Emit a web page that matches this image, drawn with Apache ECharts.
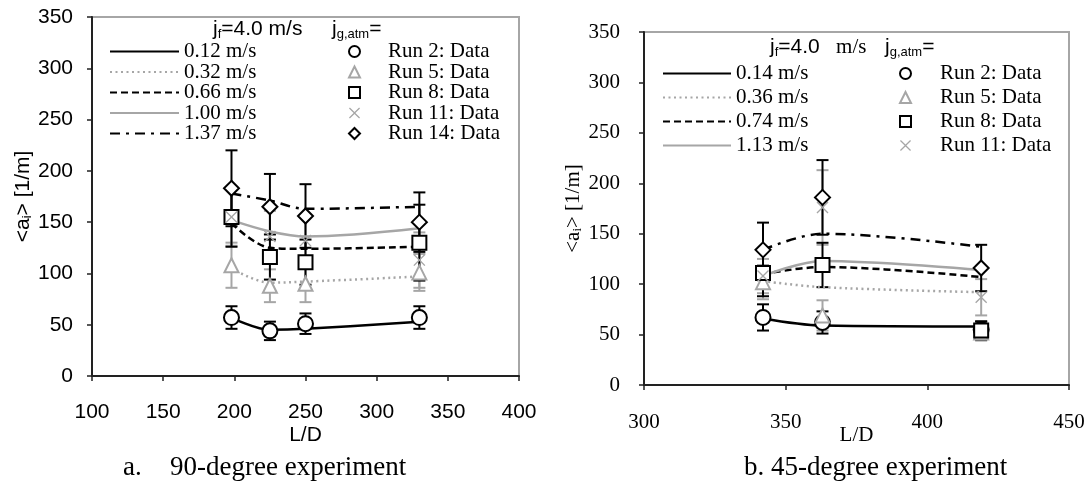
<!DOCTYPE html>
<html>
<head>
<meta charset="utf-8">
<script src="https://cdn.jsdelivr.net/npm/echarts@6/dist/echarts.min.js"></script>
<style>html,body{margin:0;padding:0;background:#fff;}#c{width:1092px;height:483px;}</style>
</head>
<body>
<div id="c"></div>
<script>
// ---------- Data: 90-degree experiment (left) ----------
const ldLeft = [198, 225, 250, 330];
const run2L = [57, 44, 51, 57];    const err2L = [11, 9, 10, 11];
const run5L = [108, 88, 90, 101];  const err5L = [22, 16, 18, 18];
const run8L = [155, 116, 111, 130]; const err8L = [29, 22, 22, 37];
const run11L = [155, 136, 132, 113]; const err11L = [28, 25, 23, 27];
const run14L = [183, 165, 156, 150]; const err14L = [37, 32, 31, 29];
const fitL012 = [57, 45, 46, 53];
const fitL032 = [105, 91, 92, 97];
const fitL066 = [149, 125, 124, 126];
const fitL100 = [152, 141, 136, 144];
const fitL137 = [178, 171, 163, 165];
const linesLeftNames = ['0.12 m/s', '0.32 m/s', '0.66 m/s', '1.00 m/s', '1.37 m/s'];

// ---------- Data: 45-degree experiment (right) ----------
const ldRight = [342, 363, 419];
const run2R = [67, 62, 55];   const err2R = [13, 11, 8];
const run5R = [102, 69, 52];  const err5R = [17, 15, 8];
const run8R = [111, 119, 54]; const err8R = [23, 22, 9];
const run11R = [108, 176, 87]; const err11R = [17, 37, 18];
const run14R = [134, 186, 116]; const err14R = [27, 37, 23];
const fitR014 = [66, 59, 58];
const fitR036 = [103, 97, 92];
const fitR074 = [110, 117, 107];
const fitR113 = [108, 123, 114];
const fitR148 = [134, 150, 137];
const linesRightNames = ['0.14 m/s', '0.36 m/s', '0.74 m/s', '1.13 m/s', '1.48 m/s'];

const runNames = ['Run 2: Data', 'Run 5: Data', 'Run 8: Data', 'Run 11: Data', 'Run 14: Data'];
const xTicksLeft = [100, 400, 50];
const xTicksRight = [300, 450, 50];
const yTicks = [0, 350, 50];

// ---------- Styles ----------
const BLACK = '#000';
const GRAY = '#a6a6a6';
const ARIAL = 'Liberation Sans';
const TIMES = 'Liberation Serif';
const X_PATH = 'path://M0,1.6L1.6,0L10,8.4L18.4,0L20,1.6L11.6,10L20,18.4L18.4,20L10,11.6L1.6,20L0,18.4L8.4,10Z';

function pairs(xs, ys) { return xs.map((x, i) => [x, ys[i]]); }
function triples(xs, ys, es) { return xs.map((x, i) => [x, ys[i], es[i]]); }

function errSeries(idx, xs, ys, es, color) {
  return {
    type: 'custom', name: 'err', xAxisIndex: idx, yAxisIndex: idx, z: 2,
    data: triples(xs, ys, es), encode: { x: 0, y: 1 },
    renderItem: function (params, api) {
      const x = api.value(0), y = api.value(1), e = api.value(2);
      const t = api.coord([x, y + e]), b = api.coord([x, y - e]);
      const hw = 6;
      const st = { stroke: color, lineWidth: 2 };
      return { type: 'group', children: [
        { type: 'line', shape: { x1: t[0], y1: t[1], x2: b[0], y2: b[1] }, style: st },
        { type: 'line', shape: { x1: t[0] - hw, y1: t[1], x2: t[0] + hw, y2: t[1] }, style: st },
        { type: 'line', shape: { x1: b[0] - hw, y1: b[1], x2: b[0] + hw, y2: b[1] }, style: st }
      ]};
    }
  };
}
function lineSeries(idx, name, xs, ys, color, type, width) {
  return { type: 'line', name: name, xAxisIndex: idx, yAxisIndex: idx, z: 3,
    data: pairs(xs, ys), smooth: 0.35, symbol: 'none',
    lineStyle: { color: color, type: type, width: width }, itemStyle: { color: color } };
}
function markerSeries(idx, name, xs, ys, symbol, size, color, filled) {
  return { type: 'scatter', name: name, xAxisIndex: idx, yAxisIndex: idx, z: 4,
    data: pairs(xs, ys), symbol: symbol, symbolSize: size,
    itemStyle: filled ? { color: color, opacity: 1 } : { color: color, borderColor: color, borderWidth: 2, opacity: 1 } };
}

function xAxis(gi, ticks, font, nameGap, margin) {
  return { type: 'value', gridIndex: gi, min: ticks[0], max: ticks[1], interval: ticks[2],
    name: 'L/D', nameLocation: 'middle', nameGap: nameGap, nameMoveOverlap: false,
    nameTextStyle: { fontFamily: font, fontSize: 21, color: BLACK },
    axisLine: { show: true, onZero: false, lineStyle: { color: '#222', width: 2 } },
    axisTick: { show: true, inside: false, length: 5, lineStyle: { color: '#222', width: 1.5 } },
    axisLabel: { fontFamily: font, fontSize: 21, color: BLACK, margin: margin },
    splitLine: { show: false } };
}
function yAxis(gi, font, nameGap, margin) {
  return { type: 'value', gridIndex: gi, min: yTicks[0], max: yTicks[1], interval: yTicks[2],
    name: '<a{sub|i}> [1/m]', nameLocation: 'middle', nameGap: nameGap, nameRotate: 90, nameMoveOverlap: false,
    nameTextStyle: { fontFamily: font, fontSize: 21, color: BLACK,
      rich: { sub: { fontFamily: font, fontSize: 13, color: BLACK, verticalAlign: 'bottom', padding: [8, 0, 0, 0] } } },
    axisLine: { show: true, lineStyle: { color: '#222', width: 2 } },
    axisTick: { show: true, inside: false, length: 5, lineStyle: { color: '#222', width: 1.5 } },
    axisLabel: { fontFamily: font, fontSize: 21, color: BLACK, margin: margin },
    splitLine: { show: false } };
}

const series = [];
// left chart (index 0)
series.push(errSeries(0, ldLeft, run5L, err5L, GRAY));
series.push(errSeries(0, ldLeft, run11L, err11L, GRAY));
series.push(errSeries(0, ldLeft, run2L, err2L, BLACK));
series.push(errSeries(0, ldLeft, run8L, err8L, BLACK));
series.push(errSeries(0, ldLeft, run14L, err14L, BLACK));
series.push(lineSeries(0, linesLeftNames[0], ldLeft, fitL012, BLACK, 'solid', 2.5));
series.push(lineSeries(0, linesLeftNames[1], ldLeft, fitL032, GRAY, [2, 3.5], 2.5));
series.push(lineSeries(0, linesLeftNames[2], ldLeft, fitL066, BLACK, [7, 4], 2.5));
series.push(lineSeries(0, linesLeftNames[3], ldLeft, fitL100, GRAY, 'solid', 2.5));
series.push(lineSeries(0, linesLeftNames[4], ldLeft, fitL137, BLACK, [10, 6, 3, 6], 2.5));
series.push(markerSeries(0, runNames[0], ldLeft, run2L, 'emptyCircle', 15, BLACK));
series.push(markerSeries(0, runNames[1], ldLeft, run5L, 'emptyTriangle', 14, GRAY));
series.push(markerSeries(0, runNames[2], ldLeft, run8L, 'emptyRect', 14, BLACK));
series.push(markerSeries(0, runNames[3], ldLeft, run11L, X_PATH, 12, GRAY, true));
series.push(markerSeries(0, runNames[4], ldLeft, run14L, 'emptyDiamond', 15, BLACK));
// right chart (index 1)
series.push(errSeries(1, ldRight, run5R, err5R, GRAY));
series.push(errSeries(1, ldRight, run11R, err11R, GRAY));
series.push(errSeries(1, ldRight, run2R, err2R, BLACK));
series.push(errSeries(1, ldRight, run8R, err8R, BLACK));
series.push(errSeries(1, ldRight, run14R, err14R, BLACK));
series.push(lineSeries(1, linesRightNames[0], ldRight, fitR014, BLACK, 'solid', 2.5));
series.push(lineSeries(1, linesRightNames[1], ldRight, fitR036, GRAY, [2, 3.5], 2.5));
series.push(lineSeries(1, linesRightNames[2], ldRight, fitR074, BLACK, [7, 4], 2.5));
series.push(lineSeries(1, linesRightNames[3], ldRight, fitR113, GRAY, 'solid', 2.5));
series.push(lineSeries(1, linesRightNames[4], ldRight, fitR148, BLACK, [10, 6, 3, 6], 2.5));
series.push(markerSeries(1, runNames[0], ldRight, run2R, 'emptyCircle', 15, BLACK));
series.push(markerSeries(1, runNames[1], ldRight, run5R, 'emptyTriangle', 14, GRAY));
series.push(markerSeries(1, runNames[2], ldRight, run8R, 'emptyRect', 14, BLACK));
series.push(markerSeries(1, runNames[3], ldRight, run11R, X_PATH, 12, GRAY, true));
series.push(markerSeries(1, runNames[4], ldRight, run14R, 'emptyDiamond', 15, BLACK));

const legendText = { fontFamily: TIMES, fontSize: 21, color: BLACK, lineHeight: 19 };

const option = {
  animation: false,
  backgroundColor: '#fff',
  grid: [
    { left: 92, top: 17, width: 427, height: 359, show: true, borderColor: GRAY, borderWidth: 2, backgroundColor: 'transparent' },
    { left: 644, top: 32, width: 425, height: 353, show: true, borderColor: GRAY, borderWidth: 2, backgroundColor: 'transparent' }
  ],
  xAxis: [ xAxis(0, xTicksLeft, ARIAL, 49, 26), xAxis(1, xTicksRight, TIMES, 40, 27) ],
  yAxis: [ yAxis(0, ARIAL, 58, 19), yAxis(1, TIMES, 60, 24) ],
  legend: [
    { data: linesLeftNames, orient: 'vertical', left: 104, top: 36, itemWidth: 69, itemHeight: 12, itemGap: -0.5,
      itemStyle: { opacity: 0 },
      textStyle: Object.assign({ padding: [0, 0, 0, 0] }, legendText), selectedMode: false },
    { data: runNames, orient: 'vertical', left: 343, top: 36, itemWidth: 11, itemHeight: 11, itemGap: -0.5,
      textStyle: Object.assign({ padding: [0, 0, 0, 23] }, legendText), selectedMode: false },
    { data: linesRightNames.slice(0, 4), orient: 'vertical', left: 657, top: 58, itemWidth: 68, itemHeight: 12, itemGap: 3,
      itemStyle: { opacity: 0 },
      textStyle: Object.assign({ padding: [0, 0, 0, 0] }, legendText), selectedMode: false },
    { data: runNames.slice(0, 4), orient: 'vertical', left: 894, top: 58, itemWidth: 11, itemHeight: 11, itemGap: 3,
      textStyle: Object.assign({ padding: [0, 0, 0, 24] }, legendText), selectedMode: false }
  ],
  graphic: [
    { type: 'text', left: 213, top: 19, style: { text: 'j{s|f}=4.0 m/s', font: '21px "Liberation Sans"', fill: BLACK,
        rich: { s: { fontFamily: ARIAL, fontSize: 13, padding: [9, 0, 0, 0] } } } },
    { type: 'text', left: 332, top: 19, style: { text: 'j{s|g,atm}=', font: '21px "Liberation Sans"', fill: BLACK,
        rich: { s: { fontFamily: ARIAL, fontSize: 13, padding: [9, 0, 0, 0] } } } },
    { type: 'text', left: 770, top: 37, style: { text: 'j{s|f}=4.0 {t|  m/s}', font: '21px "Liberation Sans"', fill: BLACK,
        rich: { s: { fontFamily: ARIAL, fontSize: 13, padding: [9, 0, 0, 0] }, t: { fontFamily: TIMES, fontSize: 21 } } } },
    { type: 'text', left: 885, top: 37, style: { text: 'j{s|g,atm}=', font: '21px "Liberation Sans"', fill: BLACK,
        rich: { s: { fontFamily: ARIAL, fontSize: 13, padding: [9, 0, 0, 0] } } } },
    { type: 'text', left: 123, top: 454, style: { text: 'a.', font: '27px "Liberation Serif"', fill: BLACK } },
    { type: 'text', left: 170, top: 454, style: { text: '90-degree experiment', font: '27px "Liberation Serif"', fill: BLACK } },
    { type: 'text', left: 744, top: 454, style: { text: 'b. 45-degree experiment', font: '27px "Liberation Serif"', fill: BLACK } }
  ],
  series: series
};

const chart = echarts.init(document.getElementById('c'), null, { renderer: 'canvas' });
chart.setOption(option);
</script>
</body>
</html>
